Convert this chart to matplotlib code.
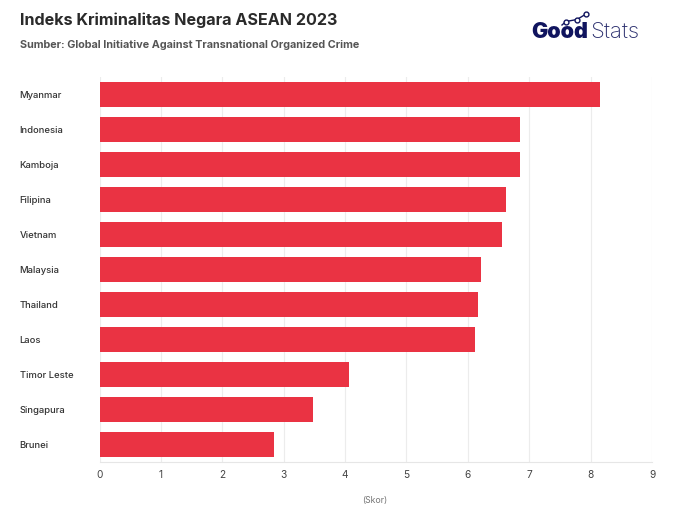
import matplotlib
matplotlib.use('Agg')
import matplotlib.pyplot as plt
from matplotlib.lines import Line2D

negara = ['Myanmar', 'Indonesia', 'Kamboja', 'Filipina', 'Vietnam', 'Malaysia',
          'Thailand', 'Laos', 'Timor Leste', 'Singapura', 'Brunei']
skor = [8.15, 6.85, 6.85, 6.62, 6.55, 6.22, 6.17, 6.12, 4.07, 3.47, 2.85]
ticks = [0, 1, 2, 3, 4, 5, 6, 7, 8, 9]

plt.rcParams['font.family'] = ['Inter', 'DejaVu Sans']

W, H = 681, 524
fig = plt.figure(figsize=(W / 100, H / 100), dpi=100, facecolor='white')
ax = fig.add_axes([99.5 / W, 1 - 462 / H, (652 - 99.5) / W, (462 - 77) / H])

y = list(range(len(negara)))
ax.barh(y, skor, height=0.72, color='#ea3343', zorder=3)
ax.set_ylim(len(negara) - 0.5, -0.5)
ax.set_xlim(0, 9)
ax.set_xticks(ticks)
ax.set_yticks(y)
ax.set_yticklabels(negara, fontsize=6.8, color='#333333', fontweight='medium')
ax.tick_params(axis='y', length=0, pad=0)
for lab in ax.get_yticklabels():
    lab.set_horizontalalignment('left')
    lab.set_x(-0.1445)
ax.tick_params(axis='x', length=0, labelsize=7.3, labelcolor='#444444', pad=6)
ax.grid(axis='x', color='#ececec', lw=0.8, zorder=0)
for s in ['top', 'right', 'left']:
    ax.spines[s].set_visible(False)
ax.spines['bottom'].set_color('#e6e6e6')

fig.text(375 / W, 1 - 500 / H, '(Skor)', ha='center', va='center',
         fontsize=6.3, color='#777777')

fig.text(20 / W, 1 - 20 / H, 'Indeks Kriminalitas Negara ASEAN 2023', fontsize=11.6,
         fontweight='bold', color='#2a2a2a', va='center')
fig.text(20 / W, 1 - 45 / H, 'Sumber: Global Initiative Against Transnational Organized Crime',
         fontsize=7.8, fontweight='bold', color='#555555', va='center')

# logo
fig.text(531 / W, 1 - 32 / H, 'Good', fontsize=15.5, fontweight='black', color='#10145e', va='center')
fig.text(590 / W, 1 - 32 / H, 'Stats', fontsize=16, fontweight='light', color='#2b2f6e', va='center')
logo_x = [562, 566, 577, 586]
logo_y = [25, 21.5, 19.5, 14]
fig.add_artist(Line2D([v / W for v in logo_x], [1 - v / H for v in logo_y], transform=fig.transFigure,
                      color='#10145e', lw=1, marker='o', ms=3.5, mfc='white', mec='#10145e', mew=1,
                      markevery=[1, 2, 3]))

fig.savefig('out.png', dpi=100)
